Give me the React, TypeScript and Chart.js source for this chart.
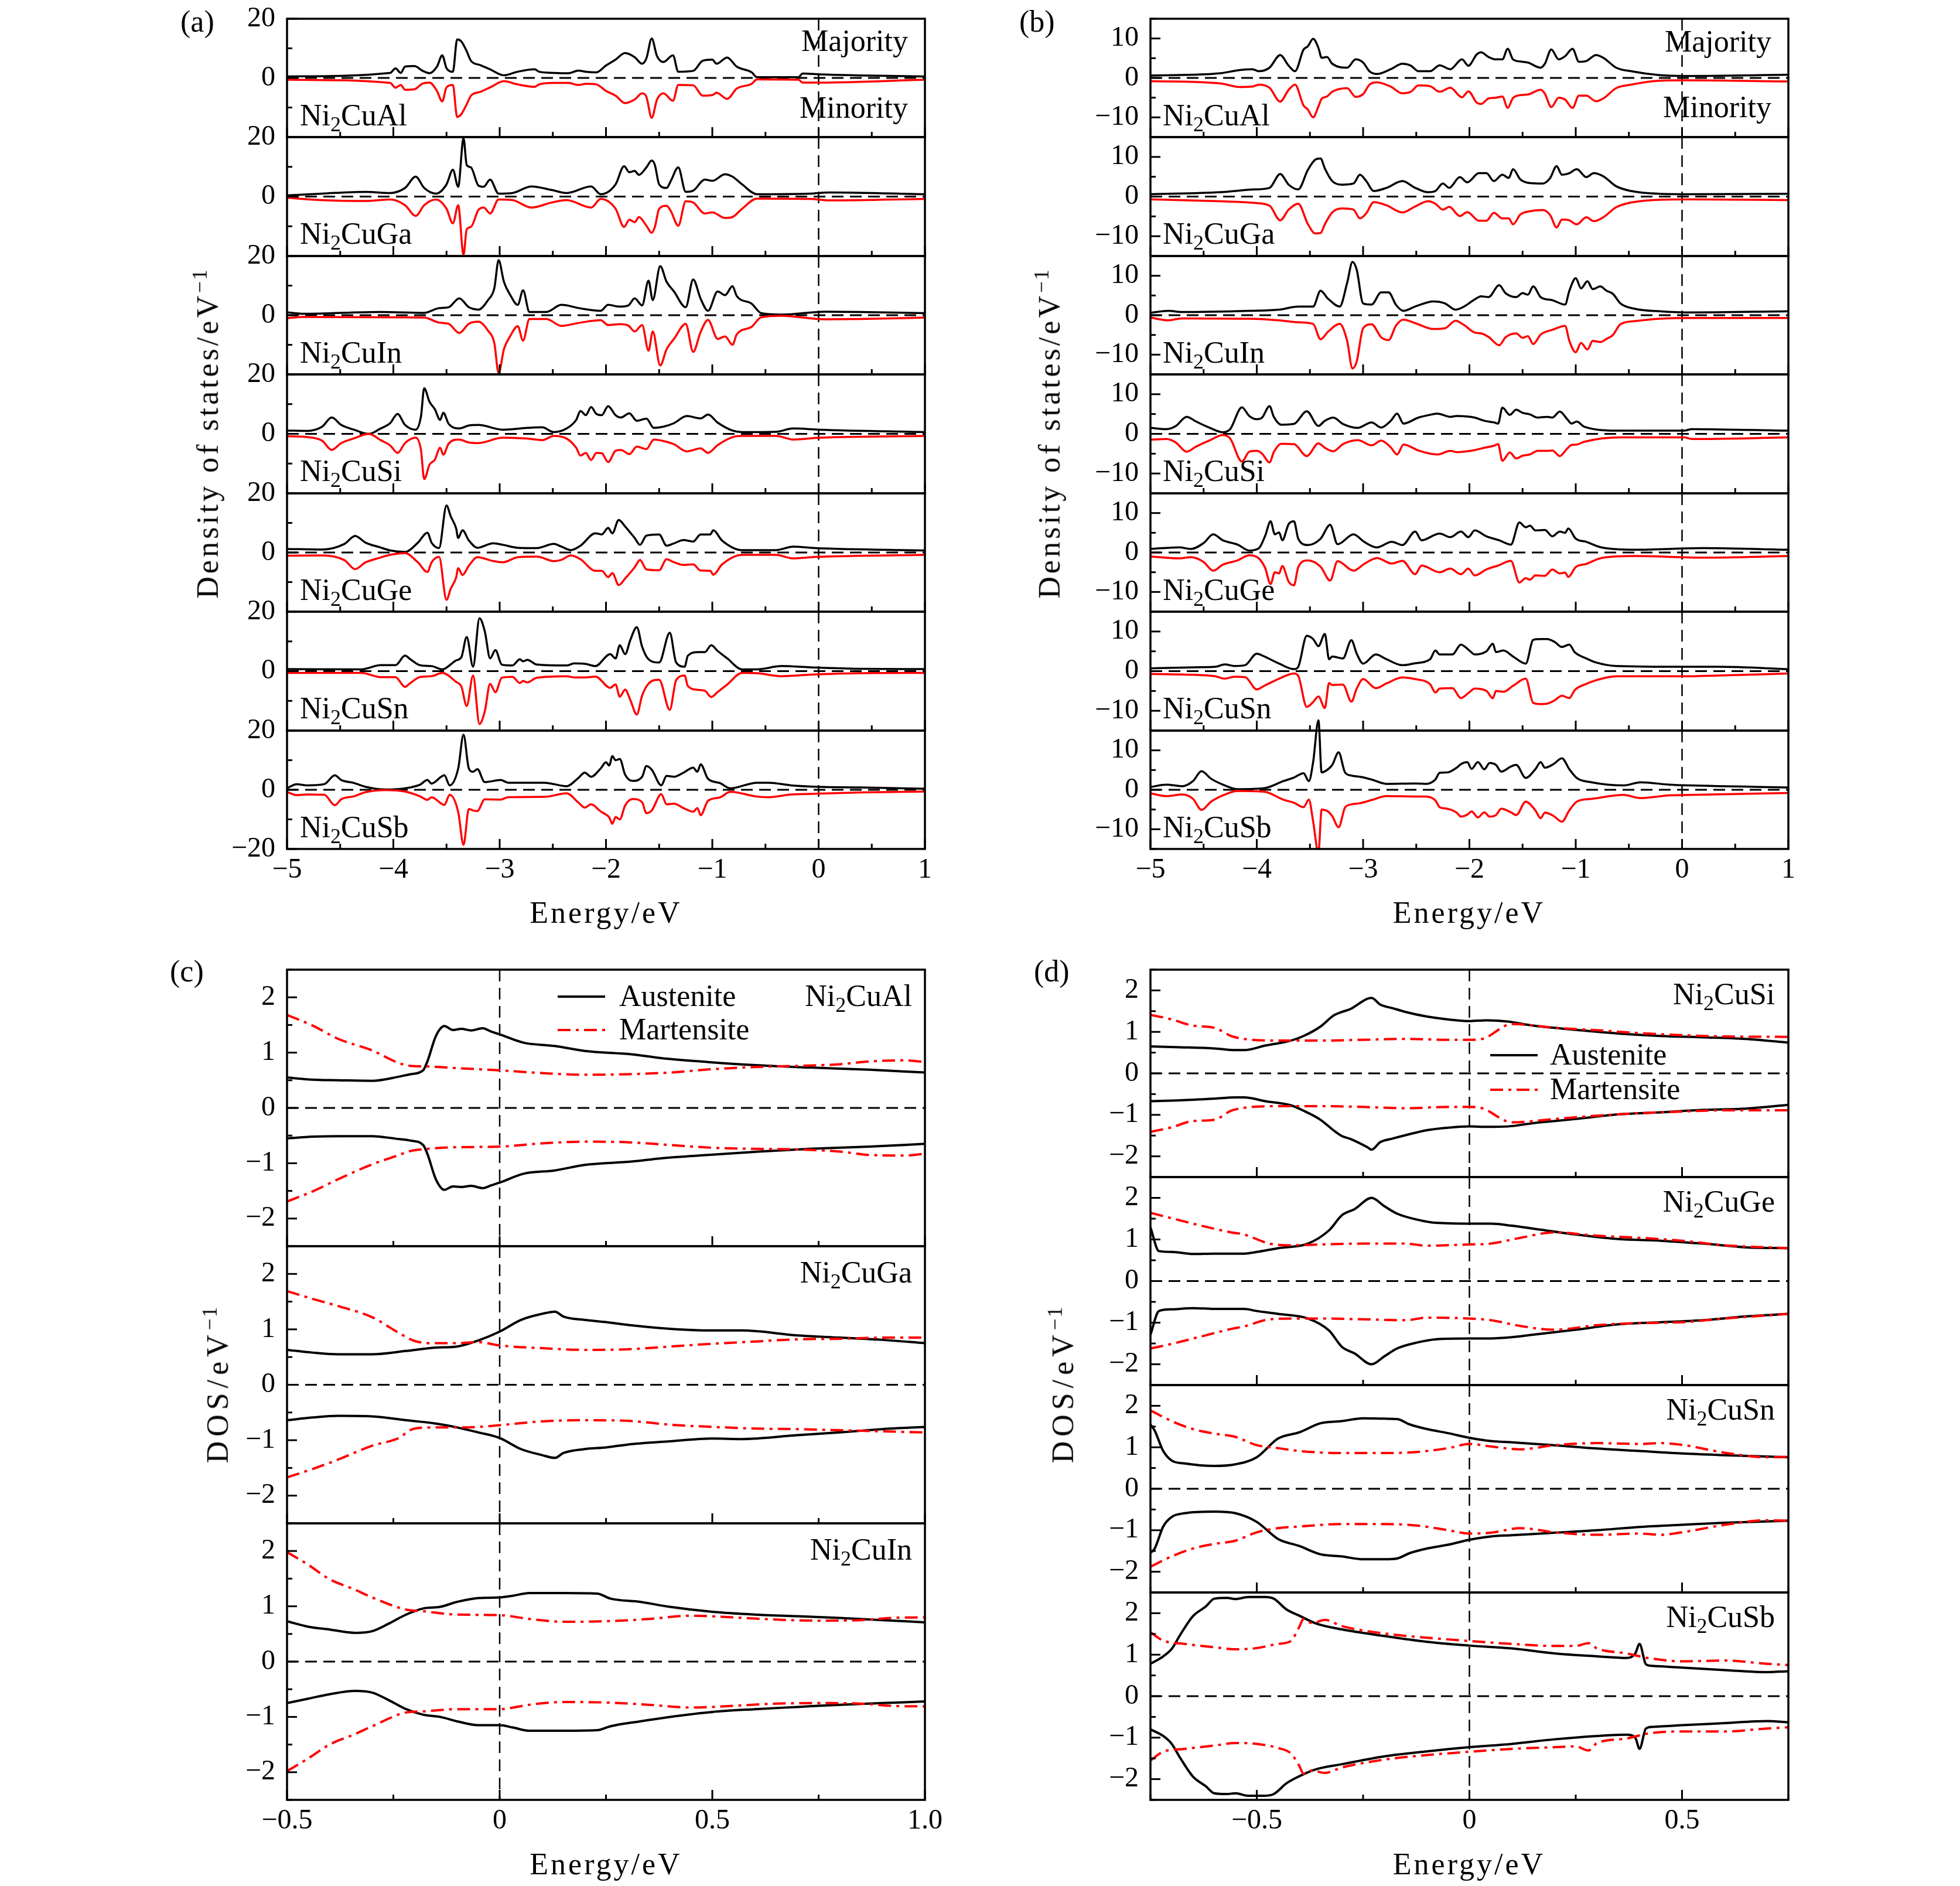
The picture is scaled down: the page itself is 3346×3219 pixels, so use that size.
import React, { useEffect, useRef } from 'react';
import { Chart, registerables } from 'chart.js';

Chart.register(...registerables);

const FONT = '"Liberation Serif", "Times New Roman", serif';
const RED = '#ff0000';

// ---------- Panel (a): majority / minority DOS, energies in eV ----------
const aAlE = [-5, -4.03, -3.98, -3.93, -3.89, -3.8, -3.73, -3.66, -3.59, -3.54, -3.5, -3.44, -3.4, -3.36, -3.31, -3.27, -3.18, -3.09, -2.96, -2.83, -2.67, -2.63, -2.49, -2.35, -2.26, -2.19, -2.09, -2.0, -1.91, -1.82, -1.73, -1.66, -1.62, -1.57, -1.52, -1.46, -1.37, -1.32, -1.18, -1.09, -1.0, -0.96, -0.86, -0.77, -0.63, -0.58, -0.19, -0.15, 0.02, 1.0];
const aAlMaj = [0.5, 1.7, 3.2, 1.7, 3.8, 4.0, 2.5, 1.6, 3.8, 7.6, 3.3, 2.1, 13, 12.3, 9, 5.8, 4.3, 2.9, 0.9, 2.1, 2.9, 2.1, 1.7, 1.6, 2.5, 2.1, 1.9, 4.2, 6.2, 8.4, 7.0, 4.8, 6.6, 13.3, 7.4, 5.4, 7.6, 2.1, 2.4, 5.8, 6.2, 4.8, 6.9, 3.8, 1.9, 0.25, 0.25, 1.5, 1.2, 0.5];
const aAlMin = [-0.6, -1.7, -3.3, -2.4, -4.0, -3.8, -2.0, -1.6, -4.4, -7.9, -3.2, -2.4, -13.2, -12.2, -8.9, -6.0, -4.7, -3.2, -1.1, -2.2, -3.0, -2.2, -1.7, -1.7, -2.4, -2.0, -2.2, -4.4, -6.0, -8.5, -7.3, -5.2, -6.4, -13.5, -7.3, -5.2, -7.7, -2.4, -2.5, -6.0, -5.8, -5.0, -7.1, -3.6, -2.0, -0.5, -0.6, -1.6, -1.6, -0.6];

const aGaE = [-5, -4.67, -4.26, -4.03, -3.89, -3.79, -3.71, -3.6, -3.5, -3.44, -3.39, -3.34, -3.31, -3.27, -3.2, -3.15, -3.09, -3.01, -2.88, -2.7, -2.51, -2.37, -2.14, -2.05, -1.91, -1.83, -1.78, -1.73, -1.69, -1.62, -1.57, -1.54, -1.5, -1.43, -1.39, -1.32, -1.25, -1.18, -1.07, -1.0, -0.88, -0.81, -0.72, -0.58, -0.08, 0.1, 1.0];
const aGaMaj = [0.4, 1.0, 1.6, 1.2, 2.9, 6.7, 2.9, 1.0, 4.1, 9.0, 3.3, 19.6, 10.6, 9.8, 3.7, 3.3, 5.7, 1.0, 1.2, 3.4, 2.2, 1.2, 3.4, 0.8, 4.1, 10.2, 8.2, 8.6, 7.3, 9.8, 12.1, 10.6, 4.1, 2.9, 5.3, 9.8, 1.6, 2.0, 5.7, 5.3, 7.5, 6.7, 4.1, 0.8, 1.0, 1.4, 0.8];
const aGaMin = [-0.4, -1.2, -1.5, -1.0, -2.9, -6.5, -2.9, -1.0, -4.1, -9.0, -2.9, -19.6, -11.0, -10.2, -4.5, -3.7, -5.7, -1.0, -1.2, -3.7, -2.0, -1.2, -3.7, -0.8, -4.1, -10.2, -7.8, -8.6, -6.9, -9.8, -12.2, -10.2, -4.1, -3.1, -4.9, -9.8, -1.6, -2.0, -5.7, -5.3, -7.2, -6.9, -4.1, -0.7, -0.8, -1.3, -0.8];

const aInE = [-5, -4.85, -4.12, -3.71, -3.57, -3.48, -3.38, -3.29, -3.2, -3.11, -3.05, -3.01, -2.96, -2.9, -2.83, -2.78, -2.72, -2.56, -2.42, -2.24, -2.05, -1.98, -1.87, -1.79, -1.73, -1.66, -1.6, -1.56, -1.49, -1.43, -1.36, -1.25, -1.18, -1.11, -1.04, -0.95, -0.88, -0.81, -0.77, -0.63, -0.54, -0.35, 0.06, 0.38, 1.0];
const aInMaj = [1.0, 0.5, 1.1, 0.8, 2.4, 2.7, 5.7, 2.7, 1.9, 5.1, 9.2, 18.6, 11.3, 6.8, 3.5, 8.4, 1.1, 1.1, 3.5, 2.3, 1.5, 3.5, 2.9, 3.3, 5.7, 3.3, 11.7, 5.1, 16.6, 11.3, 8.0, 2.7, 12.1, 5.6, 1.5, 8.0, 6.8, 9.8, 6.5, 3.9, 0.7, 0.2, 1.2, 1.1, 0.7];
const aInMin = [-1.0, -0.6, -0.7, -0.8, -2.5, -2.9, -6.0, -2.9, -2.2, -5.2, -9.5, -19.6, -11.5, -7.0, -3.7, -8.6, -1.3, -1.3, -3.6, -2.5, -1.7, -3.3, -3.0, -3.5, -5.5, -3.3, -12.0, -5.5, -17.0, -11.5, -8.0, -2.9, -12.4, -5.7, -1.6, -8.0, -7.2, -10.0, -6.5, -3.9, -0.7, -0.2, -1.4, -1.3, -0.8];

const aSiE = [-5, -4.81, -4.67, -4.58, -4.49, -4.37, -4.23, -4.12, -4.03, -3.96, -3.89, -3.79, -3.74, -3.71, -3.66, -3.61, -3.56, -3.53, -3.48, -3.38, -3.29, -3.2, -2.97, -2.74, -2.6, -2.49, -2.37, -2.28, -2.24, -2.19, -2.14, -2.09, -2.04, -1.98, -1.91, -1.86, -1.78, -1.71, -1.62, -1.55, -1.46, -1.36, -1.24, -1.11, -1.04, -0.95, -0.81, -0.72, -0.4, -0.24, 0.01, 1.0];
const aSiMaj = [1.1, 1.0, 2.4, 5.5, 3.0, 1.4, 0.0, 1.8, 3.6, 6.7, 3.0, 1.4, 5.9, 15.3, 10.8, 8.3, 4.7, 7.1, 3.4, 1.8, 2.8, 3.0, 1.4, 2.0, 2.2, 0.6, 1.8, 4.7, 7.7, 6.3, 9.0, 6.7, 6.3, 9.3, 6.3, 5.5, 6.9, 4.4, 5.1, 2.0, 2.4, 3.6, 6.0, 5.2, 6.5, 3.8, 1.1, 0.6, 0.7, 1.8, 1.4, 0.6];
const aSiMin = [-0.8, -1.1, -2.3, -5.4, -3.1, -1.5, 0.0, -2.1, -3.9, -6.4, -3.1, -1.3, -5.5, -15.2, -10.4, -8.7, -4.7, -7.0, -3.3, -1.9, -2.9, -3.1, -1.3, -1.6, -2.1, -0.7, -1.6, -4.7, -7.3, -6.4, -8.8, -6.4, -6.5, -9.5, -5.7, -5.4, -6.8, -4.3, -5.1, -1.9, -2.4, -3.5, -5.9, -4.9, -6.4, -3.8, -1.1, -0.7, -0.7, -1.9, -1.3, -0.7];

const aGeE = [-5, -4.67, -4.46, -4.36, -4.26, -4.13, -4.03, -3.89, -3.77, -3.68, -3.64, -3.57, -3.5, -3.46, -3.41, -3.39, -3.35, -3.29, -3.21, -3.06, -2.97, -2.83, -2.65, -2.49, -2.42, -2.33, -2.24, -2.1, -2.04, -1.98, -1.94, -1.88, -1.82, -1.73, -1.68, -1.62, -1.5, -1.43, -1.36, -1.27, -1.18, -1.11, -1.02, -0.99, -0.91, -0.72, -0.4, -0.24, -0.03, 1.0];
const aGeMaj = [1.2, 1.0, 2.9, 5.6, 3.3, 1.8, 0.7, 0.2, 3.3, 6.7, 3.3, 1.5, 15.9, 12.2, 8.2, 4.9, 7.5, 4.1, 1.6, 3.1, 2.6, 1.6, 1.5, 2.9, 2.0, 0.8, 2.3, 6.5, 6.1, 8.3, 6.5, 11.0, 8.8, 4.9, 2.6, 5.7, 6.1, 2.3, 3.1, 4.2, 3.7, 6.1, 6.1, 7.5, 4.1, 0.8, 0.8, 2.0, 1.5, 0.7];
const aGeMin = [-1.1, -1.0, -2.6, -5.6, -3.3, -1.8, -0.8, -0.2, -3.3, -6.6, -3.3, -1.5, -16.0, -12.2, -8.5, -5.3, -7.6, -4.5, -1.6, -2.9, -3.3, -1.6, -1.4, -2.9, -2.5, -1.0, -2.3, -6.2, -6.2, -8.3, -7.0, -11.0, -8.8, -5.0, -2.5, -5.7, -6.0, -2.3, -3.3, -4.2, -4.0, -6.1, -6.2, -7.5, -4.1, -0.8, -0.8, -2.0, -1.5, -0.8];

const aSnE = [-5, -4.3, -4.12, -3.98, -3.89, -3.84, -3.75, -3.64, -3.54, -3.41, -3.36, -3.31, -3.25, -3.19, -3.14, -3.09, -3.04, -2.98, -2.88, -2.81, -2.78, -2.74, -2.65, -2.37, -2.3, -2.19, -2.1, -1.96, -1.91, -1.87, -1.82, -1.77, -1.71, -1.66, -1.6, -1.5, -1.4, -1.34, -1.26, -1.23, -1.13, -1.07, -1.01, -0.95, -0.86, -0.72, -0.58, -0.35, -0.08, 0.38, 1.0];
const aSnMaj = [0.7, 0.6, 2.0, 2.0, 5.2, 4.0, 2.0, 1.7, 0.6, 3.6, 4.7, 11.5, 1.5, 17.8, 13.4, 4.3, 7.1, 2.2, 1.9, 4.0, 3.3, 3.8, 2.2, 1.9, 2.6, 2.4, 1.7, 5.7, 4.3, 8.7, 5.7, 10.6, 14.8, 8.2, 4.0, 2.9, 12.9, 2.9, 1.5, 5.2, 6.4, 6.4, 8.7, 6.8, 4.3, 0.6, 0.6, 1.7, 1.3, 0.8, 0.7];
const aSnMin = [-0.6, -0.6, -2.0, -2.0, -5.3, -4.0, -2.0, -1.7, -0.6, -3.6, -5.2, -11.7, -1.5, -17.8, -13.5, -4.3, -7.1, -2.2, -1.9, -4.0, -3.3, -3.8, -2.2, -1.7, -2.1, -2.1, -1.8, -5.6, -4.5, -8.6, -6.2, -9.8, -14.6, -8.2, -4.2, -2.9, -13.0, -3.0, -1.5, -5.0, -6.3, -6.6, -8.7, -7.0, -4.5, -0.6, -0.7, -1.7, -1.2, -0.7, -0.6];

const aSbE = [-5, -4.91, -4.81, -4.65, -4.55, -4.49, -4.37, -4.26, -4.07, -3.89, -3.75, -3.68, -3.64, -3.52, -3.47, -3.39, -3.34, -3.29, -3.25, -3.21, -3.14, -2.99, -2.92, -2.58, -2.37, -2.26, -2.2, -2.14, -2.05, -2.0, -1.97, -1.94, -1.91, -1.87, -1.82, -1.75, -1.66, -1.62, -1.57, -1.48, -1.43, -1.36, -1.27, -1.18, -1.14, -1.11, -1.04, -0.93, -0.83, -0.58, -0.47, -0.26, 0.01, 0.4, 1.0];
const aSbMaj = [0.5, 1.9, 1.5, 1.9, 4.9, 3.3, 2.3, 1.0, 0.1, 0.5, 1.7, 3.3, 2.1, 4.9, 1.5, 7.2, 18.6, 7.2, 6.1, 7.0, 2.6, 3.3, 2.4, 2.4, 1.2, 4.0, 5.8, 4.4, 7.2, 9.3, 8.2, 11.4, 10.0, 10.4, 5.1, 3.0, 4.4, 8.0, 6.8, 1.5, 4.7, 4.4, 5.8, 7.5, 6.1, 8.6, 3.7, 2.3, 0.5, 2.4, 2.4, 1.5, 1.0, 0.8, 0.35];
const aSbMin = [-0.7, -1.8, -1.6, -1.7, -5.2, -3.2, -2.2, -0.8, -0.1, -0.6, -2.2, -3.4, -2.5, -5.1, -1.7, -7.5, -18.6, -6.5, -7.0, -7.2, -3.2, -3.3, -2.5, -2.4, -1.2, -4.3, -6.0, -4.9, -7.3, -8.4, -9.3, -11.5, -9.2, -10.0, -5.3, -3.1, -4.2, -7.9, -7.0, -1.5, -4.9, -4.7, -6.2, -7.4, -6.2, -8.6, -3.7, -2.6, -0.7, -2.3, -2.5, -1.6, -1.3, -0.9, -0.6];

// ---------- Panel (b) ----------
const bAlE = [-5, -4.34, -4.16, -4.04, -3.98, -3.88, -3.78, -3.7, -3.64, -3.56, -3.52, -3.47, -3.42, -3.39, -3.34, -3.29, -3.15, -3.07, -3.0, -2.94, -2.87, -2.74, -2.63, -2.55, -2.48, -2.37, -2.28, -2.18, -2.07, -2.01, -1.93, -1.89, -1.82, -1.75, -1.69, -1.64, -1.59, -1.5, -1.45, -1.33, -1.29, -1.23, -1.16, -1.1, -1.03, -0.97, -0.9, -0.81, -0.74, -0.62, -0.48, -0.21, 0.02, 1.0];
const bAlMaj = [0.6, 1.2, 2.0, 2.2, 1.7, 2.6, 5.8, 3.1, 1.7, 7.2, 8.0, 9.9, 7.6, 5.1, 5.3, 3.6, 2.6, 4.7, 3.9, 1.7, 1.0, 2.2, 3.6, 3.1, 1.7, 1.7, 3.2, 2.2, 4.7, 3.1, 6.0, 6.5, 5.3, 4.7, 4.7, 7.4, 4.7, 4.1, 3.9, 2.6, 3.6, 7.2, 4.7, 5.5, 7.4, 4.1, 4.3, 5.8, 5.1, 2.6, 1.7, 0.7, 0.5, 0.8];
const bAlMin = [-0.8, -1.4, -2.3, -2.2, -1.7, -2.5, -6.0, -3.0, -1.7, -7.0, -8.0, -10.0, -7.2, -5.3, -4.7, -3.5, -2.6, -4.8, -4.1, -1.7, -1.1, -2.2, -3.9, -3.5, -1.9, -2.1, -3.5, -2.5, -4.9, -3.4, -6.3, -6.6, -5.2, -5.0, -4.7, -7.6, -5.1, -4.3, -4.2, -3.0, -4.0, -7.4, -5.0, -5.5, -7.6, -4.5, -4.5, -5.9, -5.2, -2.6, -1.7, -0.7, -0.6, -0.9];

const bGaE = [-5, -4.34, -4.02, -3.88, -3.78, -3.7, -3.61, -3.52, -3.45, -3.4, -3.36, -3.29, -3.2, -3.09, -3.03, -2.97, -2.9, -2.78, -2.63, -2.51, -2.39, -2.32, -2.25, -2.19, -2.09, -2.02, -1.91, -1.84, -1.77, -1.69, -1.63, -1.59, -1.52, -1.43, -1.31, -1.24, -1.18, -1.13, -1.06, -0.99, -0.9, -0.83, -0.74, -0.62, -0.48, -0.21, 0.07, 1.0];
const bGaMaj = [0.6, 1.1, 1.8, 2.2, 5.7, 3.0, 1.8, 6.7, 9.3, 9.6, 7.1, 3.9, 3.0, 3.3, 5.5, 3.9, 1.4, 2.2, 3.9, 2.2, 1.1, 1.4, 3.3, 2.2, 4.9, 3.6, 5.9, 5.9, 3.9, 5.5, 4.7, 6.9, 4.3, 3.4, 3.3, 4.7, 7.7, 5.5, 5.9, 6.9, 4.9, 5.9, 5.1, 2.6, 1.4, 0.7, 0.6, 0.7];
const bGaMin = [-0.7, -1.2, -1.6, -2.3, -6.0, -3.3, -1.8, -6.9, -9.3, -9.2, -7.0, -4.0, -3.0, -3.3, -5.5, -4.2, -1.4, -2.2, -4.0, -2.5, -1.2, -1.8, -3.3, -2.6, -4.9, -3.9, -6.1, -6.1, -4.1, -5.5, -5.5, -7.0, -4.5, -3.7, -3.4, -4.7, -7.8, -5.8, -6.0, -7.0, -5.2, -6.2, -5.2, -2.7, -1.5, -0.8, -0.7, -0.9];

const bInE = [-5, -4.83, -4.71, -4.07, -3.79, -3.61, -3.47, -3.4, -3.33, -3.22, -3.15, -3.1, -3.06, -3.0, -2.92, -2.83, -2.76, -2.69, -2.62, -2.51, -2.34, -2.23, -2.13, -2.05, -1.95, -1.89, -1.82, -1.72, -1.66, -1.56, -1.5, -1.45, -1.4, -1.33, -1.22, -1.1, -1.06, -1.0, -0.95, -0.89, -0.84, -0.77, -0.71, -0.65, -0.58, -0.44, -0.21, 0.07, 1.0];
const bInMaj = [0.6, 1.1, 0.8, 1.1, 1.4, 2.2, 2.2, 6.2, 4.2, 2.2, 8.2, 13.5, 11.5, 3.0, 2.7, 5.8, 5.8, 2.6, 1.1, 2.2, 3.5, 3.0, 1.4, 2.2, 4.0, 4.8, 4.6, 7.6, 5.6, 4.6, 5.6, 5.2, 7.3, 4.6, 3.8, 2.7, 6.2, 9.4, 6.8, 8.6, 6.6, 7.3, 6.2, 5.4, 3.0, 1.6, 1.0, 0.7, 1.0];
const bInMin = [-0.6, -1.3, -0.8, -0.9, -1.3, -1.8, -2.2, -6.1, -4.2, -2.2, -6.5, -13.5, -11.7, -3.3, -2.3, -5.6, -6.3, -2.6, -1.1, -2.0, -3.5, -3.3, -1.4, -2.5, -4.4, -4.6, -5.5, -7.6, -5.6, -4.6, -5.7, -5.3, -7.3, -4.9, -3.7, -2.7, -6.5, -9.4, -7.0, -8.7, -6.5, -6.8, -6.0, -5.0, -2.3, -1.5, -0.9, -0.7, -0.7];

const bSiE = [-5, -4.85, -4.76, -4.66, -4.57, -4.44, -4.32, -4.25, -4.14, -4.07, -4.0, -3.95, -3.88, -3.84, -3.77, -3.65, -3.53, -3.42, -3.36, -3.28, -3.19, -3.05, -2.92, -2.83, -2.74, -2.68, -2.62, -2.48, -2.37, -2.3, -2.18, -2.12, -1.95, -1.86, -1.77, -1.73, -1.69, -1.62, -1.56, -1.5, -1.43, -1.36, -1.27, -1.22, -1.15, -1.08, -1.04, -0.99, -0.92, -0.58, 0.02, 0.09, 1.0];
const bSiMaj = [1.5, 1.2, 2.0, 4.3, 3.1, 1.5, 0.4, 1.2, 6.7, 4.5, 3.7, 4.1, 7.0, 4.3, 2.3, 2.5, 5.7, 2.0, 3.3, 4.1, 2.5, 1.5, 2.9, 1.6, 3.3, 5.1, 2.6, 4.1, 4.8, 5.1, 4.3, 4.5, 4.1, 3.3, 2.9, 2.6, 6.6, 4.8, 6.1, 5.3, 4.9, 4.1, 4.3, 4.1, 5.6, 3.7, 2.6, 3.1, 1.8, 0.8, 0.8, 1.2, 0.8];
const bSiMin = [-1.5, -1.3, -2.2, -4.5, -3.2, -1.6, -0.3, -1.2, -7.0, -4.5, -4.3, -5.0, -7.2, -4.6, -2.5, -2.6, -5.6, -2.4, -3.5, -4.4, -2.6, -1.6, -2.9, -1.7, -3.4, -5.2, -2.7, -4.2, -5.0, -5.2, -4.3, -4.6, -4.1, -3.5, -3.0, -2.6, -6.8, -4.7, -6.2, -5.5, -5.2, -4.3, -4.3, -4.2, -5.6, -3.7, -2.8, -2.7, -2.0, -0.9, -0.9, -1.3, -0.9];

const bGeE = [-5, -4.73, -4.62, -4.5, -4.41, -4.32, -4.18, -4.07, -3.98, -3.92, -3.87, -3.83, -3.79, -3.76, -3.7, -3.65, -3.61, -3.52, -3.4, -3.31, -3.24, -3.09, -2.99, -2.87, -2.73, -2.63, -2.51, -2.45, -2.28, -2.18, -2.08, -2.01, -1.95, -1.84, -1.72, -1.61, -1.53, -1.47, -1.43, -1.38, -1.29, -1.22, -1.15, -1.1, -1.07, -1.0, -0.9, -0.76, -0.44, 0.2, 1.0];
const bGeMaj = [0.9, 1.3, 0.9, 2.4, 4.6, 3.1, 2.0, 0.5, 1.1, 4.3, 7.9, 4.6, 5.1, 3.1, 7.2, 7.9, 3.5, 1.9, 3.5, 7.0, 2.1, 4.6, 2.7, 1.3, 2.7, 1.9, 5.3, 3.1, 4.8, 3.9, 5.3, 3.9, 5.6, 4.1, 3.1, 2.0, 7.6, 6.4, 6.8, 5.6, 5.7, 4.1, 5.3, 5.0, 6.1, 3.5, 2.7, 1.3, 0.7, 1.1, 0.7];
const bGeMin = [-1.0, -1.5, -1.2, -2.4, -4.6, -3.1, -2.0, -0.7, -1.5, -4.0, -8.0, -5.0, -5.3, -3.4, -7.4, -8.3, -3.7, -2.0, -3.6, -7.1, -2.2, -4.6, -2.9, -1.4, -2.8, -2.1, -5.5, -3.3, -5.0, -4.1, -5.5, -4.1, -5.8, -4.3, -3.2, -2.1, -7.6, -6.5, -6.9, -5.8, -5.9, -4.3, -5.3, -5.1, -6.2, -3.7, -2.9, -1.4, -0.9, -1.3, -0.9];

const bSnE = [-5, -4.53, -4.39, -4.3, -4.21, -4.11, -4.0, -3.93, -3.79, -3.65, -3.61, -3.53, -3.47, -3.42, -3.36, -3.32, -3.29, -3.19, -3.11, -3.06, -3.0, -2.88, -2.78, -2.63, -2.51, -2.37, -2.32, -2.28, -2.16, -2.08, -2.0, -1.95, -1.84, -1.78, -1.75, -1.68, -1.59, -1.47, -1.4, -1.33, -1.27, -1.2, -1.13, -1.06, -1.01, -0.9, -0.81, -0.62, 0.02, 0.34, 1.0];
const bSnMaj = [0.7, 1.0, 1.1, 1.7, 1.3, 1.5, 4.4, 3.7, 1.9, 0.5, 1.1, 8.9, 8.1, 6.3, 9.4, 3.0, 3.7, 3.2, 7.8, 4.4, 1.9, 4.2, 3.0, 1.5, 2.0, 3.0, 5.2, 4.2, 4.2, 6.7, 5.2, 4.2, 5.0, 6.9, 4.8, 5.2, 3.7, 1.9, 7.9, 8.1, 8.1, 7.4, 6.1, 6.7, 4.8, 3.2, 2.2, 1.3, 1.1, 1.1, 0.5];
const bSnMin = [-0.7, -1.0, -1.3, -1.9, -1.4, -1.5, -4.6, -3.7, -1.9, -0.6, -1.2, -9.0, -7.8, -6.4, -9.3, -3.0, -3.5, -3.4, -7.7, -4.4, -2.0, -4.3, -3.1, -1.6, -2.0, -3.3, -5.4, -4.4, -4.3, -6.8, -5.3, -4.4, -5.0, -6.8, -5.0, -5.2, -3.7, -1.9, -8.0, -8.3, -8.2, -7.4, -6.2, -6.8, -4.8, -3.2, -2.3, -1.3, -1.3, -1.1, -0.6];

const bSbE = [-5, -4.85, -4.7, -4.6, -4.52, -4.43, -4.3, -4.18, -3.93, -3.75, -3.65, -3.56, -3.51, -3.47, -3.42, -3.39, -3.33, -3.29, -3.23, -3.17, -3.11, -3.03, -2.92, -2.78, -2.51, -2.41, -2.32, -2.28, -2.21, -2.12, -2.08, -2.02, -1.98, -1.92, -1.86, -1.81, -1.75, -1.7, -1.61, -1.56, -1.47, -1.38, -1.33, -1.29, -1.21, -1.13, -1.06, -0.99, -0.85, -0.55, -0.39, -0.12, 0.07, 1.0];
const bSbMaj = [0.7, 1.3, 0.9, 2.2, 4.7, 2.8, 1.1, 0.15, 0.4, 2.2, 3.1, 4.2, 2.2, 7.0, 17.6, 4.4, 5.2, 6.3, 9.5, 4.4, 3.6, 3.3, 2.6, 1.5, 1.6, 1.5, 2.6, 4.3, 4.4, 5.6, 6.5, 7.0, 5.3, 7.0, 5.2, 6.8, 6.3, 4.6, 5.9, 6.3, 3.0, 5.2, 7.0, 5.6, 6.5, 8.0, 5.2, 3.0, 1.9, 1.1, 1.9, 1.3, 1.1, 0.6];
const bSbMin = [-0.9, -1.6, -1.2, -2.3, -5.1, -3.0, -1.2, -0.3, -0.5, -2.5, -3.3, -4.4, -2.5, -8.0, -16.0, -5.0, -5.5, -6.7, -9.5, -4.5, -3.7, -3.4, -2.6, -1.6, -1.7, -1.7, -2.7, -4.4, -4.8, -5.8, -6.8, -6.3, -5.5, -7.0, -5.7, -6.8, -6.4, -4.8, -5.7, -6.4, -3.0, -5.2, -7.2, -5.8, -6.6, -8.1, -5.2, -3.0, -2.3, -1.3, -2.1, -1.4, -1.3, -0.8];

// ---------- Panel (c): austenite / martensite near E_F ----------
const cAlAusE = [-0.5, -0.44, -0.38, -0.3, -0.24, -0.21, -0.18, -0.17, -0.15, -0.13, -0.11, -0.09, -0.067, -0.04, -0.02, 0, 0.056, 0.13, 0.2, 0.31, 0.38, 0.49, 0.61, 0.73, 0.87, 1.0];
const cAlAusUp = [0.55, 0.51, 0.5, 0.49, 0.56, 0.61, 0.68, 0.84, 1.3, 1.48, 1.41, 1.43, 1.4, 1.44, 1.38, 1.33, 1.18, 1.12, 1.03, 0.97, 0.9, 0.83, 0.77, 0.73, 0.69, 0.64];
const cAlAusDn = [-0.55, -0.52, -0.51, -0.51, -0.56, -0.59, -0.67, -0.83, -1.29, -1.48, -1.42, -1.43, -1.41, -1.45, -1.4, -1.35, -1.19, -1.13, -1.03, -0.97, -0.91, -0.85, -0.79, -0.74, -0.7, -0.65];
const cAlMarE = [-0.5, -0.44, -0.38, -0.3, -0.24, -0.21, -0.17, -0.1, 0, 0.1, 0.2, 0.3, 0.4, 0.5, 0.6, 0.7, 0.8, 0.87, 0.95, 1.0];
const cAlMarUp = [1.68, 1.49, 1.25, 1.04, 0.82, 0.76, 0.75, 0.72, 0.68, 0.63, 0.6, 0.61, 0.64, 0.7, 0.74, 0.76, 0.79, 0.84, 0.86, 0.83];
const cAlMarDn = [-1.69, -1.51, -1.29, -1.02, -0.86, -0.78, -0.74, -0.71, -0.7, -0.64, -0.61, -0.62, -0.67, -0.72, -0.74, -0.75, -0.79, -0.85, -0.86, -0.83];

const cGaAusE = [-0.5, -0.44, -0.38, -0.3, -0.22, -0.15, -0.1, -0.05, 0, 0.05, 0.1, 0.13, 0.15, 0.2, 0.25, 0.3, 0.4, 0.5, 0.57, 0.7, 0.8, 0.9, 1.0];
const cGaAusUp = [0.63, 0.58, 0.55, 0.55, 0.61, 0.67, 0.69, 0.8, 0.96, 1.17, 1.28, 1.32, 1.23, 1.17, 1.13, 1.08, 1.01, 0.98, 0.98, 0.89, 0.85, 0.81, 0.75];
const cGaAusDn = [-0.64, -0.59, -0.56, -0.57, -0.64, -0.7, -0.77, -0.86, -0.96, -1.16, -1.27, -1.32, -1.23, -1.16, -1.13, -1.08, -1.02, -0.97, -0.98, -0.91, -0.86, -0.8, -0.76];
const cGaMarE = [-0.5, -0.44, -0.38, -0.3, -0.24, -0.2, -0.15, -0.1, -0.05, 0, 0.1, 0.2, 0.3, 0.4, 0.5, 0.6, 0.7, 0.8, 0.9, 1.0];
const cGaMarUp = [1.69, 1.55, 1.42, 1.22, 0.95, 0.79, 0.75, 0.75, 0.77, 0.71, 0.66, 0.63, 0.64, 0.69, 0.74, 0.78, 0.82, 0.83, 0.85, 0.85];
const cGaMarDn = [-1.67, -1.52, -1.35, -1.1, -0.97, -0.79, -0.77, -0.77, -0.76, -0.73, -0.66, -0.64, -0.65, -0.72, -0.76, -0.79, -0.8, -0.82, -0.84, -0.86];

const cInAusE = [-0.5, -0.45, -0.4, -0.34, -0.3, -0.26, -0.22, -0.18, -0.14, -0.1, -0.05, 0, 0.03, 0.07, 0.15, 0.23, 0.26, 0.33, 0.4, 0.5, 0.6, 0.7, 0.8, 0.9, 1.0];
const cInAusUp = [0.73, 0.63, 0.58, 0.52, 0.55, 0.69, 0.85, 0.96, 0.99, 1.08, 1.15, 1.16, 1.19, 1.24, 1.24, 1.23, 1.14, 1.08, 0.99, 0.9, 0.85, 0.82, 0.79, 0.75, 0.71];
const cInAusDn = [-0.75, -0.67, -0.59, -0.53, -0.56, -0.7, -0.86, -0.96, -1.0, -1.08, -1.15, -1.15, -1.19, -1.25, -1.25, -1.24, -1.17, -1.08, -1.0, -0.91, -0.86, -0.82, -0.78, -0.75, -0.72];
const cInMarE = [-0.5, -0.45, -0.4, -0.34, -0.3, -0.22, -0.18, -0.1, 0, 0.07, 0.15, 0.25, 0.35, 0.45, 0.55, 0.65, 0.75, 0.85, 0.92, 1.0];
const cInMarUp = [1.98, 1.75, 1.49, 1.3, 1.16, 0.94, 0.91, 0.85, 0.84, 0.77, 0.72, 0.73, 0.77, 0.83, 0.8, 0.76, 0.74, 0.75, 0.79, 0.8];
const cInMarDn = [-1.98, -1.75, -1.5, -1.31, -1.17, -0.92, -0.9, -0.86, -0.86, -0.78, -0.73, -0.74, -0.78, -0.83, -0.8, -0.76, -0.75, -0.76, -0.8, -0.81];

// ---------- Panel (d) ----------
const dSiAusE = [-0.75, -0.68, -0.6, -0.55, -0.53, -0.48, -0.42, -0.39, -0.35, -0.32, -0.3, -0.28, -0.24, -0.23, -0.21, -0.18, -0.15, -0.1, -0.05, 0, 0.04, 0.09, 0.15, 0.25, 0.35, 0.45, 0.55, 0.65, 0.75];
const dSiAusUp = [0.65, 0.63, 0.6, 0.56, 0.56, 0.67, 0.79, 0.9, 1.13, 1.39, 1.48, 1.55, 1.8, 1.82, 1.66, 1.57, 1.48, 1.37, 1.3, 1.26, 1.28, 1.25, 1.15, 1.05, 0.96, 0.9, 0.87, 0.83, 0.74];
const dSiAusDn = [-0.67, -0.65, -0.61, -0.58, -0.58, -0.67, -0.77, -0.9, -1.12, -1.37, -1.51, -1.58, -1.78, -1.84, -1.66, -1.57, -1.49, -1.37, -1.31, -1.28, -1.29, -1.28, -1.2, -1.1, -0.99, -0.94, -0.88, -0.85, -0.76];
const dSiMarE = [-0.75, -0.7, -0.65, -0.6, -0.56, -0.53, -0.45, -0.35, -0.25, -0.15, -0.05, 0, 0.03, 0.1, 0.2, 0.3, 0.4, 0.5, 0.6, 0.75];
const dSiMarUp = [1.41, 1.3, 1.15, 1.1, 0.9, 0.83, 0.79, 0.79, 0.81, 0.83, 0.81, 0.81, 0.83, 1.19, 1.1, 1.04, 0.97, 0.92, 0.89, 0.88];
const dSiMarDn = [-1.41, -1.3, -1.15, -1.12, -0.9, -0.83, -0.79, -0.79, -0.81, -0.84, -0.81, -0.81, -0.84, -1.18, -1.1, -1.02, -0.96, -0.92, -0.89, -0.89];

const dGeAusE = [-0.75, -0.73, -0.7, -0.65, -0.6, -0.53, -0.5, -0.45, -0.38, -0.33, -0.3, -0.27, -0.23, -0.2, -0.17, -0.12, -0.08, 0, 0.05, 0.1, 0.15, 0.25, 0.35, 0.45, 0.55, 0.65, 0.75];
const dGeAusUp = [1.29, 0.72, 0.7, 0.65, 0.66, 0.66, 0.7, 0.79, 0.9, 1.22, 1.58, 1.73, 2.0, 1.8, 1.62, 1.47, 1.4, 1.38, 1.38, 1.33, 1.26, 1.12, 1.01, 0.97, 0.9, 0.81, 0.79];
const dGeAusDn = [-1.29, -0.72, -0.68, -0.65, -0.67, -0.67, -0.72, -0.79, -0.9, -1.19, -1.58, -1.74, -2.0, -1.81, -1.62, -1.47, -1.4, -1.38, -1.38, -1.35, -1.29, -1.17, -1.04, -0.99, -0.94, -0.85, -0.79];
const dGeMarE = [-0.75, -0.7, -0.63, -0.56, -0.53, -0.47, -0.42, -0.35, -0.25, -0.15, -0.1, 0, 0.05, 0.12, 0.2, 0.3, 0.4, 0.5, 0.6, 0.75];
const dGeMarUp = [1.64, 1.51, 1.33, 1.17, 1.12, 0.9, 0.86, 0.88, 0.9, 0.9, 0.85, 0.88, 0.9, 1.04, 1.17, 1.09, 1.04, 0.97, 0.86, 0.79];
const dGeMarDn = [-1.62, -1.51, -1.33, -1.15, -1.09, -0.92, -0.9, -0.9, -0.92, -0.94, -0.88, -0.9, -0.94, -1.08, -1.17, -1.06, -1.01, -0.99, -0.9, -0.79];

const dSnAusE = [-0.75, -0.74, -0.72, -0.7, -0.67, -0.6, -0.55, -0.5, -0.45, -0.4, -0.35, -0.3, -0.25, -0.2, -0.17, -0.14, -0.1, -0.05, 0, 0.05, 0.1, 0.2, 0.3, 0.4, 0.5, 0.6, 0.75];
const dSnAusUp = [1.55, 1.4, 0.91, 0.68, 0.61, 0.55, 0.59, 0.76, 1.21, 1.36, 1.58, 1.63, 1.7, 1.69, 1.68, 1.55, 1.44, 1.34, 1.23, 1.15, 1.12, 1.05, 0.97, 0.91, 0.85, 0.81, 0.76];
const dSnAusDn = [-1.55, -1.44, -0.91, -0.68, -0.59, -0.55, -0.59, -0.8, -1.21, -1.38, -1.58, -1.63, -1.7, -1.7, -1.68, -1.55, -1.44, -1.35, -1.23, -1.15, -1.12, -1.06, -1.0, -0.92, -0.87, -0.82, -0.77];
const dSnMarE = [-0.75, -0.7, -0.65, -0.6, -0.55, -0.5, -0.45, -0.4, -0.3, -0.2, -0.12, -0.05, 0, 0.05, 0.12, 0.2, 0.3, 0.4, 0.45, 0.5, 0.6, 0.7, 0.75];
const dSnMarUp = [1.89, 1.63, 1.44, 1.33, 1.25, 1.05, 0.98, 0.91, 0.86, 0.86, 0.89, 0.98, 1.08, 1.02, 0.95, 1.05, 1.1, 1.08, 1.1, 1.06, 0.87, 0.76, 0.77];
const dSnMarDn = [-1.88, -1.63, -1.44, -1.33, -1.25, -1.05, -0.95, -0.91, -0.85, -0.85, -0.89, -1.0, -1.08, -1.06, -0.95, -1.05, -1.11, -1.08, -1.11, -1.05, -0.87, -0.76, -0.77];

const dSbAusE = [-0.75, -0.72, -0.7, -0.68, -0.65, -0.62, -0.6, -0.57, -0.55, -0.52, -0.48, -0.46, -0.43, -0.4, -0.36, -0.3, -0.2, -0.1, 0, 0.1, 0.2, 0.3, 0.37, 0.39, 0.4, 0.415, 0.43, 0.5, 0.6, 0.7, 0.75];
const dSbAusUp = [0.78, 0.96, 1.14, 1.48, 1.93, 2.16, 2.35, 2.37, 2.34, 2.39, 2.39, 2.35, 2.09, 1.94, 1.75, 1.61, 1.45, 1.31, 1.22, 1.15, 1.03, 0.96, 0.92, 1.03, 1.26, 0.77, 0.73, 0.69, 0.63, 0.58, 0.6];
const dSbAusDn = [-0.8, -0.96, -1.15, -1.49, -1.94, -2.17, -2.34, -2.36, -2.34, -2.4, -2.4, -2.36, -2.1, -1.93, -1.76, -1.64, -1.45, -1.33, -1.23, -1.15, -1.04, -0.96, -0.93, -1.0, -1.27, -0.78, -0.74, -0.7, -0.65, -0.6, -0.63];
const dSbMarE = [-0.75, -0.72, -0.67, -0.6, -0.55, -0.5, -0.45, -0.42, -0.4, -0.39, -0.37, -0.34, -0.3, -0.2, -0.1, 0, 0.1, 0.2, 0.25, 0.28, 0.3, 0.37, 0.42, 0.5, 0.6, 0.7, 0.75];
const dSbMarUp = [1.54, 1.34, 1.26, 1.18, 1.13, 1.16, 1.26, 1.33, 1.67, 1.86, 1.76, 1.84, 1.69, 1.51, 1.41, 1.33, 1.26, 1.21, 1.21, 1.28, 1.15, 1.03, 0.92, 0.84, 0.86, 0.78, 0.75];
const dSbMarDn = [-1.55, -1.34, -1.27, -1.19, -1.13, -1.15, -1.25, -1.38, -1.68, -1.87, -1.79, -1.85, -1.72, -1.53, -1.42, -1.34, -1.27, -1.23, -1.21, -1.31, -1.13, -1.02, -0.9, -0.85, -0.85, -0.78, -0.75];

// ---------- labels ----------
const namesAB = ['Ni2CuAl', 'Ni2CuGa', 'Ni2CuIn', 'Ni2CuSi', 'Ni2CuGe', 'Ni2CuSn', 'Ni2CuSb'];
const namesC = ['Ni2CuAl', 'Ni2CuGa', 'Ni2CuIn'];
const namesD = ['Ni2CuSi', 'Ni2CuGe', 'Ni2CuSn', 'Ni2CuSb'];
const spinLabels = ['Majority', 'Minority'];
const phaseLabels = ['Austenite', 'Martensite'];
const xTicksAB = [-5, -4, -3, -2, -1, 0, 1];
const xTicksC = [-0.5, 0, 0.5, 1.0];
const xTicksD = [-0.5, 0, 0.5];
const yTicksA = [20, 0];
const yTicksB = [10, 0, -10];
const yTicksCD = [2, 1, 0, -1, -2];

// ---------- layout ----------
const PAD_L = 230;
const PAD_R = 60;
const PAD_T = 45;
const PAD_B = 12;
const PAD_B_BOTTOM = 120;
const TICK_FONT = 48;
const LABEL_FONT = 52;

type TextItem = { text: string; dx: number; dy: number; align: 'left' | 'right' };
type LegendItem = { label: string; color: string; dash: number[]; dy: number; x1: number; x2: number; tx: number };
type Sub = {
  L: number; T: number; W: number; H: number;
  xr: number[]; yr: number[];
  xMajor: number; yMajor: number;
  xLabels: number[]; yLabels: number[];
  xFmt: (v: number) => string;
  bottom: boolean;
  datasets: any[];
  texts: TextItem[];
  legend: LegendItem[];
};

const near = (a: number, b: number) => Math.abs(a - b) < 1e-6;
const inList = (list: number[], v: number) => list.some((u) => near(u, v));
const isMult = (v: number, m: number) => near(v / m, Math.round(v / m));
const fmt = (v: number) => (v < -1e-9 ? '\u2212' : '') + String(Math.abs(Math.round(v * 100) / 100));
const fmtC = (v: number) => (near(v, 1) ? '1.0' : fmt(v));

const pts = (E: number[], Y: number[]) => E.map((x, i) => ({ x, y: Y[i] }));

function dosSets(E: number[], up: number[], dn: number[], bottom: boolean) {
  const clip = { left: 0, right: 0, top: false, bottom: bottom ? 0 : false };
  const base = { pointRadius: 0, borderWidth: 3.5, cubicInterpolationMode: 'monotone', fill: false, clip };
  return [
    { ...base, data: pts(E, dn), borderColor: RED },
    { ...base, data: pts(E, up), borderColor: '#000' },
  ];
}

function phaseSets(aE: number[], aUp: number[], aDn: number[], mE: number[], mUp: number[], mDn: number[]) {
  const aus = { pointRadius: 0, borderWidth: 4, cubicInterpolationMode: 'monotone', fill: false, borderColor: '#000' };
  const mar = { pointRadius: 0, borderWidth: 4, cubicInterpolationMode: 'monotone', fill: false, borderColor: RED, borderDash: [22, 9, 5, 9] };
  return [
    { ...mar, data: pts(mE, mUp) },
    { ...mar, data: pts(mE, mDn) },
    { ...aus, data: pts(aE, aUp) },
    { ...aus, data: pts(aE, aDn) },
  ];
}

const aSeries = [[aAlE, aAlMaj, aAlMin], [aGaE, aGaMaj, aGaMin], [aInE, aInMaj, aInMin], [aSiE, aSiMaj, aSiMin], [aGeE, aGeMaj, aGeMin], [aSnE, aSnMaj, aSnMin], [aSbE, aSbMaj, aSbMin]];
const bSeries = [[bAlE, bAlMaj, bAlMin], [bGaE, bGaMaj, bGaMin], [bInE, bInMaj, bInMin], [bSiE, bSiMaj, bSiMin], [bGeE, bGeMaj, bGeMin], [bSnE, bSnMaj, bSnMin], [bSbE, bSbMaj, bSbMin]];
const cSeries = [
  [cAlAusE, cAlAusUp, cAlAusDn, cAlMarE, cAlMarUp, cAlMarDn],
  [cGaAusE, cGaAusUp, cGaAusDn, cGaMarE, cGaMarUp, cGaMarDn],
  [cInAusE, cInAusUp, cInAusDn, cInMarE, cInMarUp, cInMarDn],
];
const dSeries = [
  [dSiAusE, dSiAusUp, dSiAusDn, dSiMarE, dSiMarUp, dSiMarDn],
  [dGeAusE, dGeAusUp, dGeAusDn, dGeMarE, dGeMarUp, dGeMarDn],
  [dSnAusE, dSnAusUp, dSnAusDn, dSnMarE, dSnMarUp, dSnMarDn],
  [dSbAusE, dSbAusUp, dSbAusDn, dSbMarE, dSbMarUp, dSbMarDn],
];

const SUBS: Sub[] = [];

aSeries.forEach(([E, up, dn], i) => {
  const bottom = i === aSeries.length - 1;
  SUBS.push({
    L: 490, T: 31.5 + i * 202.5, W: 1089, H: 202.5,
    xr: [-5, 1, 0.5], yr: [-20, 20, 10], xMajor: 1, yMajor: 20,
    xLabels: xTicksAB, yLabels: bottom ? [...yTicksA, -20] : yTicksA, xFmt: fmt, bottom,
    datasets: dosSets(E, up, dn, bottom),
    texts: [
      { text: namesAB[i], dx: 22, dy: 182, align: 'left' },
      ...(i === 0 ? [{ text: spinLabels[0], dx: -29, dy: 55, align: 'right' as const }, { text: spinLabels[1], dx: -29, dy: 169, align: 'right' as const }] : []),
    ],
    legend: [],
  });
});

bSeries.forEach(([E, up, dn], i) => {
  const bottom = i === bSeries.length - 1;
  SUBS.push({
    L: 1964, T: 31.5 + i * 202.5, W: 1088.5, H: 202.5,
    xr: [-5, 1, 0.5], yr: [-15, 15, 5], xMajor: 1, yMajor: 10,
    xLabels: xTicksAB, yLabels: yTicksB, xFmt: fmt, bottom,
    datasets: dosSets(E, up, dn, bottom),
    texts: [
      { text: namesAB[i], dx: 21, dy: 182, align: 'left' },
      ...(i === 0 ? [{ text: spinLabels[0], dx: -29, dy: 56, align: 'right' as const }, { text: spinLabels[1], dx: -29, dy: 168, align: 'right' as const }] : []),
    ],
    legend: [],
  });
});

cSeries.forEach(([aE, aUp, aDn, mE, mUp, mDn], i) => {
  const bottom = i === cSeries.length - 1;
  SUBS.push({
    L: 490, T: 1655 + i * 472.33, W: 1089, H: 472.33,
    xr: [-0.5, 1, 0.25], yr: [-2.5, 2.5, 0.5], xMajor: 0.5, yMajor: 1,
    xLabels: xTicksC, yLabels: yTicksCD, xFmt: fmtC, bottom,
    datasets: phaseSets(aE, aUp, aDn, mE, mUp, mDn),
    texts: [{ text: namesC[i], dx: -22, dy: 62, align: 'right' }],
    legend: i === 0 ? [
      { label: phaseLabels[0], color: '#000', dash: [], dy: 46, x1: 462, x2: 543, tx: 567 },
      { label: phaseLabels[1], color: RED, dash: [22, 9, 5, 9], dy: 103, x1: 462, x2: 543, tx: 567 },
    ] : [],
  });
});

dSeries.forEach(([aE, aUp, aDn, mE, mUp, mDn], i) => {
  const bottom = i === dSeries.length - 1;
  SUBS.push({
    L: 1964, T: 1655 + i * 354.25, W: 1088.5, H: 354.25,
    xr: [-0.75, 0.75, 0.25], yr: [-2.5, 2.5, 0.5], xMajor: 0.5, yMajor: 1,
    xLabels: xTicksD, yLabels: yTicksCD, xFmt: fmt, bottom,
    datasets: phaseSets(aE, aUp, aDn, mE, mUp, mDn),
    texts: [{ text: namesD[i], dx: -23, dy: 59, align: 'right' }],
    legend: i === 0 ? [
      { label: phaseLabels[0], color: '#000', dash: [], dy: 146, x1: 580, x2: 661, tx: 682 },
      { label: phaseLabels[1], color: RED, dash: [22, 9, 5, 9], dy: 205, x1: 580, x2: 661, tx: 682 },
    ] : [],
  });
});

// Draw "Ni2CuAl" with the digit as a subscript
function drawChem(ctx: CanvasRenderingContext2D, text: string, x: number, y: number, align: 'left' | 'right', size: number) {
  const parts = text.split(/(\d+)/).filter((p) => p.length > 0).map((p) => ({ t: p, sub: /^\d+$/.test(p) }));
  const fN = `${size}px ${FONT}`;
  const fS = `${Math.round(size * 0.7)}px ${FONT}`;
  let total = 0;
  for (const p of parts) {
    ctx.font = p.sub ? fS : fN;
    total += ctx.measureText(p.t).width;
  }
  let cx = align === 'left' ? x : x - total;
  ctx.textAlign = 'left';
  ctx.textBaseline = 'alphabetic';
  for (const p of parts) {
    ctx.font = p.sub ? fS : fN;
    ctx.fillText(p.t, cx, p.sub ? y + size * 0.2 : y);
    cx += ctx.measureText(p.t).width;
  }
}

function makeDecor(s: Sub) {
  return {
    id: 'decor',
    beforeDatasetsDraw(chart: any) {
      const { ctx, chartArea: a } = chart;
      const xs = chart.scales.x;
      const ys = chart.scales.y;
      ctx.save();
      ctx.strokeStyle = '#000';
      ctx.lineWidth = 3;
      ctx.setLineDash([20, 11]);
      const y0 = ys.getPixelForValue(0);
      ctx.beginPath();
      ctx.moveTo(a.left, y0);
      ctx.lineTo(a.right, y0);
      ctx.stroke();
      ctx.lineWidth = 2.5;
      ctx.setLineDash([20, 11]);
      const x0 = xs.getPixelForValue(0);
      ctx.beginPath();
      ctx.moveTo(x0, a.top);
      ctx.lineTo(x0, a.bottom);
      ctx.stroke();
      ctx.restore();
    },
    afterDatasetsDraw(chart: any) {
      const { ctx, chartArea: a } = chart;
      const xs = chart.scales.x;
      const ys = chart.scales.y;
      ctx.save();
      ctx.strokeStyle = '#000';
      ctx.setLineDash([]);
      ctx.lineWidth = 3;
      for (const t of xs.ticks) {
        const px = xs.getPixelForValue(t.value);
        const len = isMult(t.value, s.xMajor) ? 17 : 9;
        ctx.beginPath();
        ctx.moveTo(px, a.bottom);
        ctx.lineTo(px, a.bottom - len);
        ctx.stroke();
      }
      for (const t of ys.ticks) {
        const py = ys.getPixelForValue(t.value);
        const len = isMult(t.value, s.yMajor) ? 17 : 9;
        ctx.beginPath();
        ctx.moveTo(a.left, py);
        ctx.lineTo(a.left + len, py);
        ctx.stroke();
      }
      ctx.lineWidth = 3.5;
      ctx.strokeRect(a.left, a.top, a.right - a.left, a.bottom - a.top);
      ctx.fillStyle = '#000';
      for (const t of s.texts) {
        const x = t.align === 'left' ? a.left + t.dx : a.right + t.dx;
        drawChem(ctx, t.text, x, a.top + t.dy, t.align, LABEL_FONT);
      }
      for (const l of s.legend) {
        ctx.strokeStyle = l.color;
        ctx.lineWidth = 4;
        ctx.setLineDash(l.dash);
        ctx.beginPath();
        ctx.moveTo(a.left + l.x1, a.top + l.dy);
        ctx.lineTo(a.left + l.x2, a.top + l.dy);
        ctx.stroke();
        ctx.setLineDash([]);
        ctx.fillStyle = '#000';
        ctx.font = `${LABEL_FONT}px ${FONT}`;
        ctx.textAlign = 'left';
        ctx.textBaseline = 'middle';
        ctx.fillText(l.label, a.left + l.tx, a.top + l.dy + 2);
      }
      ctx.restore();
    },
  };
}

function buildConfig(s: Sub, padB: number) {
  const tickFont = { family: FONT, size: TICK_FONT };
  return {
    type: 'line',
    data: { datasets: s.datasets },
    options: {
      animation: false,
      responsive: false,
      events: [],
      layout: { autoPadding: false, padding: { left: 0, top: PAD_T, right: PAD_R, bottom: 0 } },
      plugins: { legend: { display: false }, tooltip: { enabled: false }, title: { display: false } },
      scales: {
        x: {
          type: 'linear',
          min: s.xr[0], max: s.xr[1],
          grid: { display: false, drawTicks: false },
          border: { display: false },
          ticks: {
            stepSize: s.xr[2], autoSkip: false, maxRotation: 0, minRotation: 0,
            display: s.bottom, padding: 8, color: '#000', font: tickFont,
            callback: (v: number) => (inList(s.xLabels, v) ? s.xFmt(v) : ''),
          },
          afterFit: (sc: any) => { sc.height = padB; sc.paddingLeft = 0; sc.paddingRight = 0; },
        },
        y: {
          type: 'linear',
          min: s.yr[0], max: s.yr[1],
          grid: { display: false, drawTicks: false },
          border: { display: false },
          ticks: {
            stepSize: s.yr[2], autoSkip: false, padding: 20, color: '#000', font: tickFont,
            callback: (v: number) => (inList(s.yLabels, v) ? fmt(v) : ''),
          },
          afterFit: (sc: any) => { sc.width = PAD_L; sc.paddingTop = 0; sc.paddingBottom = 0; },
        },
      },
    },
    plugins: [makeDecor(s)],
  };
}

function SubChart({ s }: { s: Sub }) {
  const ref = useRef<HTMLCanvasElement | null>(null);
  const top = Math.round(s.T);
  const bot = Math.round(s.T + s.H);
  const left = Math.round(s.L);
  const right = Math.round(s.L + s.W);
  const padB = s.bottom ? PAD_B_BOTTOM : PAD_B;
  const cw = PAD_L + (right - left) + PAD_R;
  const ch = PAD_T + (bot - top) + padB;
  useEffect(() => {
    if (!ref.current) return;
    const chart = new Chart(ref.current, buildConfig(s, padB) as any);
    return () => chart.destroy();
  }, []);
  return (
    <canvas
      ref={ref}
      width={cw}
      height={ch}
      style={{ position: 'absolute', left: left - PAD_L, top: top - PAD_T, width: cw, height: ch }}
    />
  );
}

const baseText: React.CSSProperties = {
  position: 'absolute',
  fontFamily: FONT,
  fontSize: LABEL_FONT,
  lineHeight: '50px',
  color: '#000',
  whiteSpace: 'nowrap',
};

function Rotated({ cx, cy, spacing, children }: { cx: number; cy: number; spacing: number; children: React.ReactNode }) {
  return (
    <div style={{ ...baseText, left: cx, top: cy, fontSize: 52, letterSpacing: `${spacing}px`, transform: 'translate(-50%, -50%) rotate(-90deg)' }}>
      {children}
    </div>
  );
}

function XTitle({ cx, cy }: { cx: number; cy: number }) {
  return (
    <div style={{ ...baseText, left: cx, top: cy, fontSize: 52, letterSpacing: '4px', transform: 'translate(-50%, -50%)' }}>
      Energy/eV
    </div>
  );
}

const supStyle: React.CSSProperties = { fontSize: '0.68em', verticalAlign: '0.55em', letterSpacing: '2px' };

export default function App() {
  return (
    <div style={{ position: 'absolute', left: 0, top: 0, width: 3346, height: 3219, background: '#fff', overflow: 'hidden' }}>
      {SUBS.map((s, i) => (
        <SubChart key={i} s={s} />
      ))}
      <div style={{ ...baseText, left: 308, top: 12 }}>(a)</div>
      <div style={{ ...baseText, left: 1740, top: 12 }}>(b)</div>
      <div style={{ ...baseText, left: 290, top: 1633 }}>(c)</div>
      <div style={{ ...baseText, left: 1765, top: 1633 }}>(d)</div>
      <Rotated cx={348} cy={740} spacing={5}>Density of states/eV<sup style={supStyle}>{'\u2212'}1</sup></Rotated>
      <Rotated cx={1785} cy={740} spacing={5}>Density of states/eV<sup style={supStyle}>{'\u2212'}1</sup></Rotated>
      <Rotated cx={365} cy={2363} spacing={8}>DOS/eV<sup style={supStyle}>{'\u2212'}1</sup></Rotated>
      <Rotated cx={1808} cy={2363} spacing={8}>DOS/eV<sup style={supStyle}>{'\u2212'}1</sup></Rotated>
      <XTitle cx={1034.5} cy={1558} />
      <XTitle cx={2508} cy={1558} />
      <XTitle cx={1034.5} cy={3182} />
      <XTitle cx={2508} cy={3182} />
    </div>
  );
}
